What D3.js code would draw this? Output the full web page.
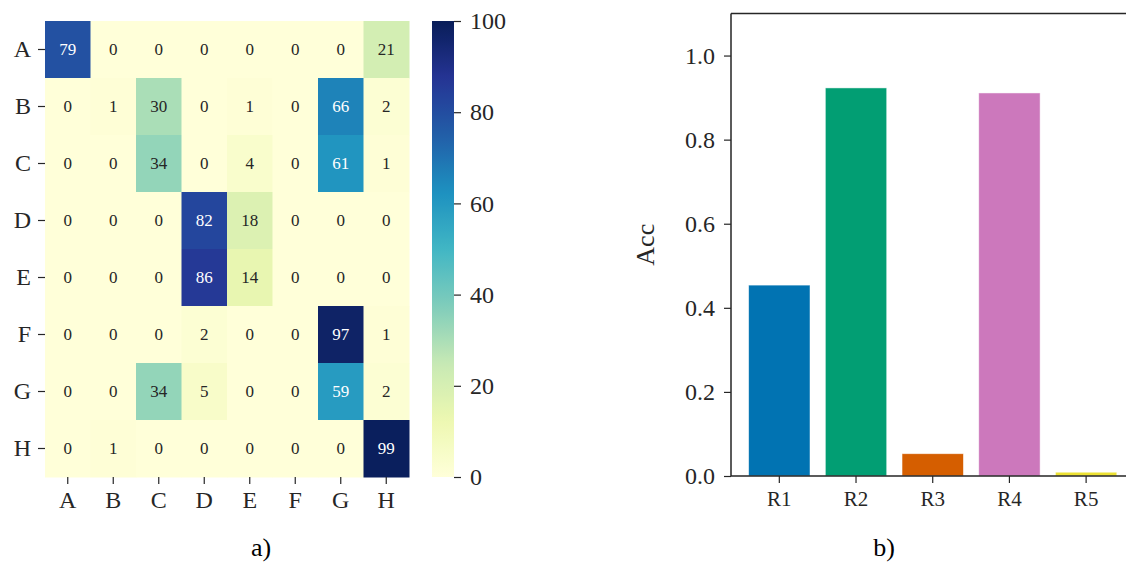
<!DOCTYPE html>
<html><head><meta charset="utf-8">
<script src="https://cdn.jsdelivr.net/npm/d3@7"></script>
<style>body{margin:0;background:#fff}svg{display:block}</style>
</head><body>
<svg id="c" width="1126" height="563"></svg>
<script>
// ---------- data ----------
const rowLabels = ["A","B","C","D","E","F","G","H"];
const colLabels = ["A","B","C","D","E","F","G","H"];
const rowA = [79,0,0,0,0,0,0,21];
const rowB = [0,1,30,0,1,0,66,2];
const rowC = [0,0,34,0,4,0,61,1];
const rowD = [0,0,0,82,18,0,0,0];
const rowE = [0,0,0,86,14,0,0,0];
const rowF = [0,0,0,2,0,0,97,1];
const rowG = [0,0,34,5,0,0,59,2];
const rowH = [0,1,0,0,0,0,0,99];
const matrix = [rowA,rowB,rowC,rowD,rowE,rowF,rowG,rowH];
const colorbarTicks = [0,20,40,60,80,100];

const barCategories = ["R1","R2","R3","R4","R5"];
const barValues = [0.454,0.923,0.053,0.911,0.009];
const barColors = ["#0173b2","#029e73","#d55e00","#cc78bc","#ece133"];
const yTicks = [0.0,0.2,0.4,0.6,0.8,1.0];

// ---------- setup ----------
const svg = d3.select("#c");
const FONT = "'Liberation Serif', 'DejaVu Serif', serif";
const ink = "#262626";
const ylgnbu = d3.piecewise(d3.interpolateRgb, ["#ffffd9","#edf8b1","#c7e9b4","#7fcdbb","#41b6c4","#1d91c0","#225ea8","#253494","#081d58"]);
const color = d3.scaleSequential(ylgnbu).domain([0,100]);

// ---------- heatmap ----------
const hm = {x0:45, x1:409, y0:21, y1:477};
const hx = d3.scaleBand().domain(colLabels).range([hm.x0,hm.x1]);
const hy = d3.scaleBand().domain(rowLabels).range([hm.y0,hm.y1]);
const cells = [];
matrix.forEach((row,i)=>row.forEach((v,j)=>cells.push({r:rowLabels[i],c:colLabels[j],v})));
const g1 = svg.append("g");
g1.selectAll("rect").data(cells).join("rect")
  .attr("x",d=>hx(d.c)).attr("y",d=>hy(d.r))
  .attr("width",hx.bandwidth()+0.5).attr("height",hy.bandwidth()+0.5)
  .attr("fill",d=>color(d.v));
function lum(c){
  const rgb=d3.rgb(c);
  const f=x=>{x/=255;return x<=0.03928?x/12.92:Math.pow((x+0.055)/1.055,2.4);};
  return 0.2126*f(rgb.r)+0.7152*f(rgb.g)+0.0722*f(rgb.b);
}
g1.selectAll("text").data(cells).join("text")
  .attr("x",d=>hx(d.c)+hx.bandwidth()/2).attr("y",d=>hy(d.r)+hy.bandwidth()/2)
  .attr("text-anchor","middle").attr("dominant-baseline","central")
  .attr("font-family",FONT).attr("font-size",17)
  .attr("fill",d=>lum(color(d.v))>0.408?ink:"#ffffff")
  .text(d=>d.v);

const axL = d3.axisLeft(hy).tickSize(7).tickPadding(7);
const gL = svg.append("g").attr("transform",`translate(${hm.x0},0)`).call(axL);
const axB = d3.axisBottom(hx).tickSize(7).tickPadding(7);
const gB = svg.append("g").attr("transform",`translate(0,${hm.y1})`).call(axB);
[gL,gB].forEach(g=>{
  g.select(".domain").remove();
  g.selectAll(".tick line").attr("stroke",ink).attr("stroke-width",1.2);
  g.selectAll(".tick text").attr("font-family",FONT).attr("font-size",24).attr("fill",ink);
});

// colorbar
const cb = {x:432, w:22, y0:21, y1:477};
const defs = svg.append("defs");
const grad = defs.append("linearGradient").attr("id","cbg").attr("x1",0).attr("y1",1).attr("x2",0).attr("y2",0);
d3.range(0,1.0001,0.02).forEach(t=>grad.append("stop").attr("offset",t).attr("stop-color",ylgnbu(t)));
svg.append("rect").attr("x",cb.x).attr("y",cb.y0).attr("width",cb.w).attr("height",cb.y1-cb.y0).attr("fill","url(#cbg)");
const cy = d3.scaleLinear().domain([0,100]).range([cb.y1,cb.y0]);
const gC = svg.append("g").attr("transform",`translate(${cb.x+cb.w},0)`)
  .call(d3.axisRight(cy).tickValues(colorbarTicks).tickSize(7).tickPadding(9));
gC.select(".domain").remove();
gC.selectAll(".tick line").attr("stroke",ink).attr("stroke-width",1.2);
gC.selectAll(".tick text").attr("font-family",FONT).attr("font-size",24).attr("fill",ink);

svg.append("text").attr("x",261).attr("y",556).attr("text-anchor","middle")
  .attr("font-family",FONT).attr("font-size",26).attr("fill","#000").text("a)");

// ---------- bar chart ----------
const bc = {x0:731, y0:13.5, y1:476};
const step = 76.7;
const bx = d3.scaleBand().domain(barCategories)
  .range([bc.x0+0.1*step+ (0.63-0.5)*step - 0.1*step, bc.x0+0.13*step+5*step]).paddingInner(0.2).paddingOuter(0.1);
const by = d3.scaleLinear().domain([0,1.1]).range([bc.y1,bc.y0]);
svg.append("g").selectAll("rect").data(barCategories).join("rect")
  .attr("x",d=>bx(d)).attr("width",bx.bandwidth())
  .attr("y",(d,i)=>by(barValues[i])).attr("height",(d,i)=>by(0)-by(barValues[i]))
  .attr("fill",(d,i)=>barColors[i]).attr("stroke","#ffffff").attr("stroke-opacity",0.6).attr("stroke-width",0.8);

const gY = svg.append("g").attr("transform",`translate(${bc.x0},0)`)
  .call(d3.axisLeft(by).tickValues(yTicks).tickFormat(d3.format(".1f")).tickSize(7).tickPadding(9));
const gX = svg.append("g").attr("transform",`translate(0,${bc.y1})`)
  .call(d3.axisBottom(bx).tickSize(7).tickPadding(8));
[gY,gX].forEach(g=>{
  g.select(".domain").remove();
  g.selectAll(".tick line").attr("stroke",ink).attr("stroke-width",1.2);
  g.selectAll(".tick text").attr("font-family",FONT).attr("fill",ink);
});
gY.selectAll(".tick text").attr("font-size",24);
gX.selectAll(".tick text").attr("font-size",21);
// spines
svg.append("path").attr("d",`M${bc.x0},${bc.y0}H1126M${bc.x0},${bc.y0}V${bc.y1}M${bc.x0},${bc.y1}H1126`)
  .attr("stroke",ink).attr("stroke-width",1.5).attr("fill","none");

svg.append("text").attr("transform",`translate(654,${(bc.y0+bc.y1)/2}) rotate(-90)`)
  .attr("text-anchor","middle").attr("font-family",FONT).attr("font-size",26).attr("fill",ink).text("Acc");
svg.append("text").attr("x",884).attr("y",556).attr("text-anchor","middle")
  .attr("font-family",FONT).attr("font-size",26).attr("fill","#000").text("b)");
</script>
</body></html>
